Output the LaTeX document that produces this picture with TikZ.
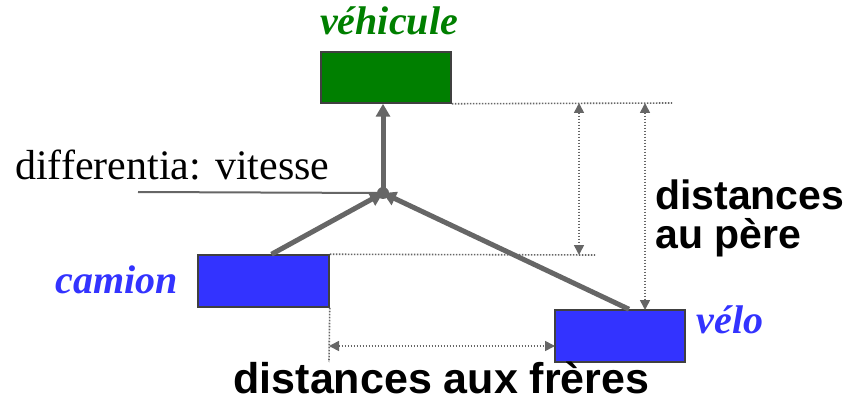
\documentclass[tikz,border=0pt]{standalone}
\usepackage{fontspec}
\setmainfont{Liberation Serif}
\newfontfamily\arialfont{Liberation Sans}
\usetikzlibrary{arrows.meta}
\definecolor{boxgreen}{HTML}{007F00}
\definecolor{boxblue}{HTML}{3333FF}
\definecolor{linegray}{HTML}{666666}
\definecolor{bordergray}{HTML}{404040}
\tikzset{
  classbox/.style={draw=bordergray, line width=1.5pt, minimum width=130pt, minimum height=51pt, inner sep=0pt},
  isa/.style={draw=linegray, line width=5pt, -{Triangle[length=13pt,width=14pt]}},
  dotline/.style={draw=linegray, line width=1.6pt, dash pattern=on 1.6pt off 1.4pt},
  dotarrow/.style={dotline, {Triangle[length=10pt,width=10pt]}-{Triangle[length=10pt,width=10pt]}},
  classlabel/.style={font=\fontsize{40}{40}\selectfont\bfseries\itshape, inner sep=0pt, anchor=base},
  bigtext/.style={font=\fontsize{41}{39}\selectfont\arialfont\bfseries, inner sep=0pt}
}
\begin{document}
\begin{tikzpicture}[x=1pt,y=-1pt]
\useasboundingbox (0,0) rectangle (860,401);
% boxes
\node[classbox, fill=boxgreen] (veh) at (386,77.5) {};
\node[classbox, fill=boxblue, minimum width=131pt, minimum height=52pt] (cam) at (263.5,281) {};
\node[classbox, fill=boxblue, minimum height=52pt] (vel) at (620,336) {};
% labels
\node[classlabel, text=boxgreen] (vehlab) at (389,35) {véhicule};
\node[classlabel, text=boxblue] (camlab) at (117,293) {camion};
\node[classlabel, text=boxblue] (vellab) at (730,333) {vélo};
% junction
\coordinate (J) at (383,193);
\node[circle, fill=linegray, minimum size=12pt, inner sep=0pt] (jn) at (J) {};
% differentia
\node[font=\fontsize{42}{42}\selectfont, inner sep=0pt, anchor=base west] (diff) at (15,179) {differentia: vitesse};
\coordinate (ul) at (138,192);
\draw[draw=linegray, line width=2pt] (ul) -- (jn.center);
% isa arrows
\draw[isa] (jn.center) -- (jn.center |- veh.south);
\draw[isa] ([xshift=8pt]cam.north) -- (jn.center);
\draw[isa] ([xshift=9pt]vel.north) -- (jn.center);
% distance guides
\coordinate (d1) at (672,103);
\coordinate (d2) at (595,255);
\coordinate (a1t) at (579,103);
\coordinate (a1b) at (579,255);
\coordinate (a2t) at (645,103);
\coordinate (a2b) at (645,310);
\coordinate (d3) at (329,362);
\coordinate (h1) at (329,346);
\coordinate (h2) at (555,346);
\draw[dotline] (veh.south east) -- (d1);
\draw[dotline] (cam.north east) -- (d2);
\draw[dotline] (cam.south east) -- (d3);
\draw[dotarrow] (a1t) -- (a1b);
\draw[dotarrow] (a2t) -- (a2b);
\draw[dotarrow] (h1) -- (h2);
% texts
\node[bigtext, align=left, anchor=base west] (pere) at (655,248) {distances\\au père};
\node[bigtext, font=\fontsize{43}{43}\selectfont\arialfont\bfseries, anchor=base] (freres) at (441.5,393) {distances aux frères};
\end{tikzpicture}
\end{document}
